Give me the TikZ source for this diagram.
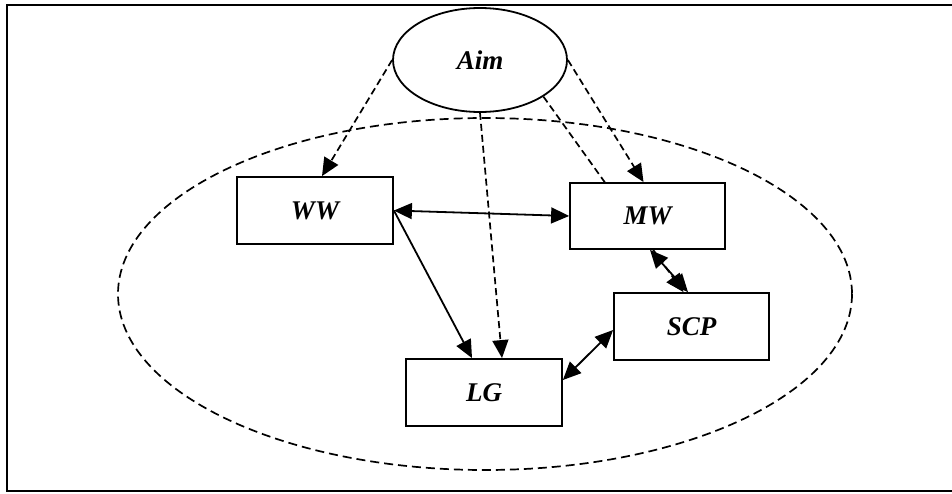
\documentclass[tikz,border=0pt]{standalone}
\usepackage{fontspec}
\setmainfont{Liberation Serif}
\usetikzlibrary{arrows.meta,shapes.geometric}
\pgfdeclarelayer{background}
\pgfsetlayers{background,main}
\begin{document}
\begin{tikzpicture}[x=1pt,y=-1pt,
  lbl/.style={font=\fontsize{27}{31}\selectfont\bfseries\itshape},
  box/.style={draw,line width=1.8pt,fill=white,minimum width=156pt,minimum height=67pt,inner sep=0pt,lbl},
  dsh/.style={line width=1.7pt,dash pattern=on 7pt off 4pt},
  tip/.style={-{Triangle[length=18pt,width=16pt]}},
  dtip/.style={{Triangle[length=18pt,width=16pt]}-{Triangle[length=18pt,width=16pt]}},
  sol/.style={line width=1.8pt}]
\useasboundingbox (0,0) rectangle (952,493);
\draw[line width=2.2pt] (7,5) rectangle (970,491);
\draw[line width=1.7pt,dash pattern=on 9pt off 5pt] (485,294) ellipse [x radius=367, y radius=176];
\node[ellipse,draw,line width=1.8pt,fill=white,minimum width=174pt,minimum height=104pt,inner sep=0pt,lbl] (Aim) at (480,60) {Aim};
\node[box] (WW) at (315,210.5) {WW};
\node[box,minimum width=155pt,minimum height=66pt] (MW) at (647.5,216) {MW};
\node[box,minimum width=155pt] (SCP) at (691.5,326.5) {SCP};
\node[box] (LG) at (484,392.5) {LG};
\begin{pgfonlayer}{background}
\draw[dsh,tip] (Aim.-30) -- ([xshift=-8pt]SCP.north);
\end{pgfonlayer}
\draw[dsh,tip] (Aim.west) -- ([xshift=7pt]WW.north);
\draw[dsh,tip] (Aim.south) -- ([xshift=18pt]LG.north);
\draw[dsh,tip] (Aim.east) -- ([xshift=-4pt]MW.north);
\draw[sol,dtip] (WW.east) -- (MW.west);
\draw[sol,tip] (WW.east) -- ([xshift=-12pt]LG.north);
\draw[sol,dtip] ([xshift=2.5pt]MW.south) -- ([xshift=-3.5pt]SCP.north);
\draw[sol,dtip] ([yshift=12.5pt]LG.east) -- ([yshift=-3.5pt]SCP.west);
\end{tikzpicture}
\end{document}
